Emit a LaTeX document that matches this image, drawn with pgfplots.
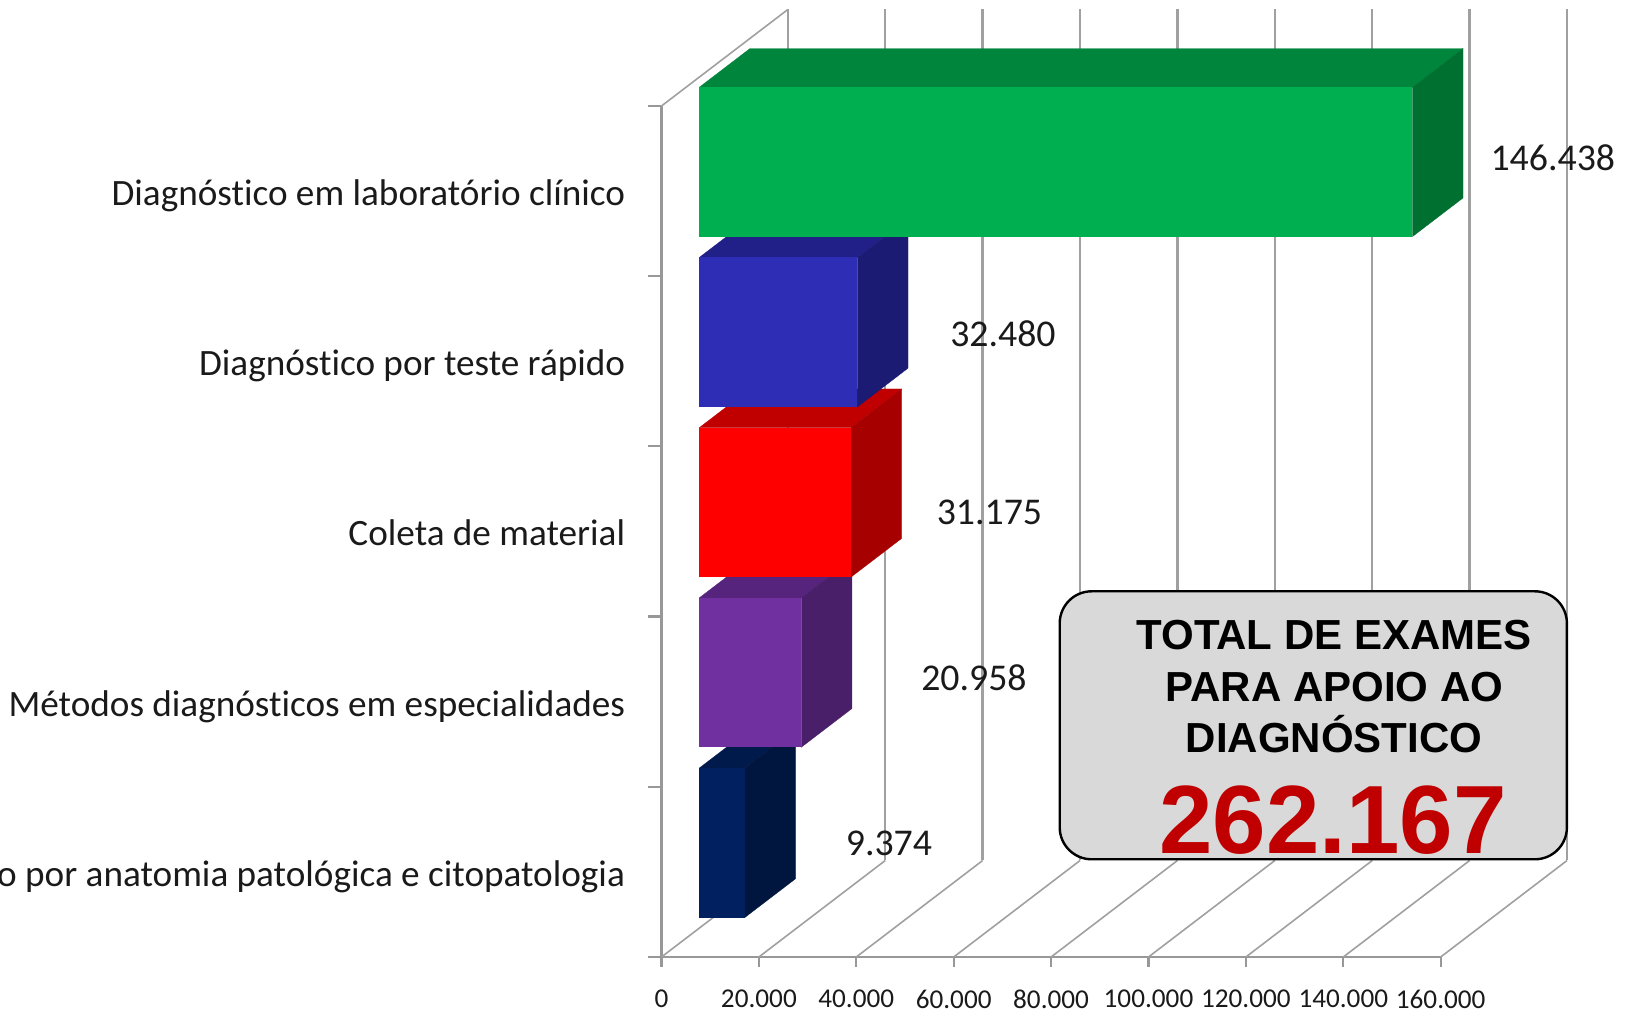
\documentclass[border=0pt]{standalone}
\usepackage{fontspec}
\usepackage{pgfplots}
\pgfplotsset{compat=1.18}
\setmainfont[Ligatures=NoCommon]{Carlito}
\newfontfamily\arialb[Scale=1.0]{Liberation Sans Bold}
\definecolor{gridc}{HTML}{A0A0A0}
\definecolor{axisc}{HTML}{989898}
\definecolor{txt}{HTML}{1A1A1A}
\begin{document}
\begin{tikzpicture}
\useasboundingbox (-330.75pt,-27.5pt) rectangle (485.75pt,478.5pt);
\begin{axis}[
  at={(0pt,0pt)}, anchor=south west,
  scale only axis, width=389.6pt, height=425.5pt,
  xmin=0, xmax=160000, ymin=0, ymax=5,
  clip=false,
  axis lines=left,
  axis line style={-, draw=axisc, line width=1.1pt},
  every tick/.style={draw=axisc, line width=1.1pt},
  xtick={0,20000,40000,60000,80000,100000,120000,140000,160000},
  xticklabels={0,20.000,40.000,60.000,80.000,100.000,120.000,140.000,160.000},
  scaled x ticks=false,
  xticklabel style={font=\fontsize{13.6}{15}\selectfont,text=txt,inner sep=0pt},
  x tick label style={yshift=-11.4pt},
  xtick align=outside,
  ytick={0.5,1.5,2.5,3.5,4.5},
  yticklabels={Diagnóstico por anatomia patológica e citopatologia,Métodos diagnósticos em especialidades,Coleta de material,Diagnóstico por teste rápido,Diagnóstico em laboratório clínico},
  yticklabel style={font=\fontsize{18.6}{21}\selectfont,text=txt,inner sep=0pt,anchor=base east},
  minor ytick={0,1,2,3,4,5},
  major tick length=5pt,
  y tick label style={xshift=-13pt,yshift=-7.2pt},
  major y tick style={draw=none},
  minor tick length=6.5pt,
  ytick align=outside,
]
% floor lines
\addplot[draw=gridc,line width=0.8pt] coordinates {(0,0)(25950,0.567)};
\addplot[draw=gridc,line width=0.8pt] coordinates {(20000,0)(45950,0.567)};
\addplot[draw=gridc,line width=0.8pt] coordinates {(40000,0)(65950,0.567)};
\addplot[draw=gridc,line width=0.8pt] coordinates {(60000,0)(85950,0.567)};
\addplot[draw=gridc,line width=0.8pt] coordinates {(80000,0)(105950,0.567)};
\addplot[draw=gridc,line width=0.8pt] coordinates {(100000,0)(125950,0.567)};
\addplot[draw=gridc,line width=0.8pt] coordinates {(120000,0)(145950,0.567)};
\addplot[draw=gridc,line width=0.8pt] coordinates {(140000,0)(165950,0.567)};
\addplot[draw=gridc,line width=0.8pt] coordinates {(160000,0)(185950,0.567)};
\addplot[draw=gridc,line width=0.8pt] coordinates {(0,5)(25950,5.567)};
% wall lines
\addplot[draw=gridc,line width=1.2pt] coordinates {(25950,0.567)(25950,5.567)};
\addplot[draw=gridc,line width=1.2pt] coordinates {(45950,0.567)(45950,5.567)};
\addplot[draw=gridc,line width=1.2pt] coordinates {(65950,0.567)(65950,5.567)};
\addplot[draw=gridc,line width=1.2pt] coordinates {(85950,0.567)(85950,5.567)};
\addplot[draw=gridc,line width=1.2pt] coordinates {(105950,0.567)(105950,5.567)};
\addplot[draw=gridc,line width=1.2pt] coordinates {(125950,0.567)(125950,5.567)};
\addplot[draw=gridc,line width=1.2pt] coordinates {(145950,0.567)(145950,5.567)};
\addplot[draw=gridc,line width=1.2pt] coordinates {(165950,0.567)(165950,5.567)};
\addplot[draw=gridc,line width=1.2pt] coordinates {(185950,0.567)(185950,5.567)};
% bar 5: 9.374
\addplot[fill={rgb,255:red,0;green,26;blue,76},draw={rgb,255:red,0;green,26;blue,76},line width=0.1pt] coordinates {(7750,1.11)(18150,1.3374)(27524,1.3374)(17124,1.11)} --cycle;
\addplot[fill={rgb,255:red,0;green,22;blue,62},draw={rgb,255:red,0;green,22;blue,62},line width=0.1pt] coordinates {(17124,0.232)(27524,0.4594)(27524,1.3374)(17124,1.11)} --cycle;
\addplot[fill={rgb,255:red,0;green,32;blue,96},draw=none] coordinates {(7750,0.232)(17124,0.232)(17124,1.11)(7750,1.11)} --cycle;
% bar 4: 20.958
\addplot[fill={rgb,255:red,86;green,36;blue,124},draw={rgb,255:red,86;green,36;blue,124},line width=0.1pt] coordinates {(7750,2.11)(18150,2.3374)(39108,2.3374)(28708,2.11)} --cycle;
\addplot[fill={rgb,255:red,74;green,31;blue,106},draw={rgb,255:red,74;green,31;blue,106},line width=0.1pt] coordinates {(28708,1.232)(39108,1.4594)(39108,2.3374)(28708,2.11)} --cycle;
\addplot[fill={rgb,255:red,112;green,48;blue,160},draw=none] coordinates {(7750,1.232)(28708,1.232)(28708,2.11)(7750,2.11)} --cycle;
% bar 3: 31.175
\addplot[fill={rgb,255:red,192;green,0;blue,0},draw={rgb,255:red,192;green,0;blue,0},line width=0.1pt] coordinates {(7750,3.11)(18150,3.3374)(49325,3.3374)(38925,3.11)} --cycle;
\addplot[fill={rgb,255:red,166;green,0;blue,0},draw={rgb,255:red,166;green,0;blue,0},line width=0.1pt] coordinates {(38925,2.232)(49325,2.4594)(49325,3.3374)(38925,3.11)} --cycle;
\addplot[fill={rgb,255:red,255;green,0;blue,0},draw=none] coordinates {(7750,2.232)(38925,2.232)(38925,3.11)(7750,3.11)} --cycle;
% bar 2: 32.480
\addplot[fill={rgb,255:red,32;green,32;blue,136},draw={rgb,255:red,32;green,32;blue,136},line width=0.1pt] coordinates {(7750,4.11)(18150,4.3374)(50630,4.3374)(40230,4.11)} --cycle;
\addplot[fill={rgb,255:red,27;green,27;blue,115},draw={rgb,255:red,27;green,27;blue,115},line width=0.1pt] coordinates {(40230,3.232)(50630,3.4594)(50630,4.3374)(40230,4.11)} --cycle;
\addplot[fill={rgb,255:red,46;green,45;blue,181},draw=none] coordinates {(7750,3.232)(40230,3.232)(40230,4.11)(7750,4.11)} --cycle;
% bar 1: 146.438
\addplot[fill={rgb,255:red,0;green,133;blue,60},draw={rgb,255:red,0;green,133;blue,60},line width=0.1pt] coordinates {(7750,5.11)(18150,5.3374)(164588,5.3374)(154188,5.11)} --cycle;
\addplot[fill={rgb,255:red,0;green,112;blue,48},draw={rgb,255:red,0;green,112;blue,48},line width=0.1pt] coordinates {(154188,4.232)(164588,4.4594)(164588,5.3374)(154188,5.11)} --cycle;
\addplot[fill={rgb,255:red,0;green,176;blue,80},draw=none] coordinates {(7750,4.232)(154188,4.232)(154188,5.11)(7750,5.11)} --cycle;
% value labels
\node[text=txt,font=\fontsize{18.9}{20}\selectfont] at (axis cs:183022,4.695) {146.438};
\node[text=txt,font=\fontsize{18.9}{20}\selectfont] at (axis cs:70109,3.660) {32.480};
\node[text=txt,font=\fontsize{18.9}{20}\selectfont] at (axis cs:67337,2.615) {31.175};
\node[text=txt,font=\fontsize{18.9}{20}\selectfont] at (axis cs:64155,1.639) {20.958};
\node[text=txt,font=\fontsize{18.9}{20}\selectfont] at (axis cs:46705,0.670) {9.374};
\end{axis}
\draw[fill={rgb,255:red,217;green,217;blue,217},draw=black,line width=1.2pt,rounded corners=16pt] (199.1pt,48.85pt) rectangle (452.7pt,182.85pt);
\node[anchor=base,inner sep=0pt,font=\arialb\fontsize{21}{24}\selectfont] at (336.25pt,153.5pt) {TOTAL DE EXAMES};
\node[anchor=base,inner sep=0pt,font=\arialb\fontsize{21}{24}\selectfont] at (336.5pt,127.65pt) {PARA APOIO AO};
\node[anchor=base,inner sep=0pt,font=\arialb\fontsize{21}{24}\selectfont] at (336.25pt,102.15pt) {DIAGNÓSTICO};
\node[anchor=base,inner sep=0pt,xscale=0.99,text={rgb,255:red,192;green,0;blue,0},font=\arialb\fontsize{48.5}{52}\selectfont] at (335.75pt,51.85pt) {262.167};
\end{tikzpicture}
\end{document}
